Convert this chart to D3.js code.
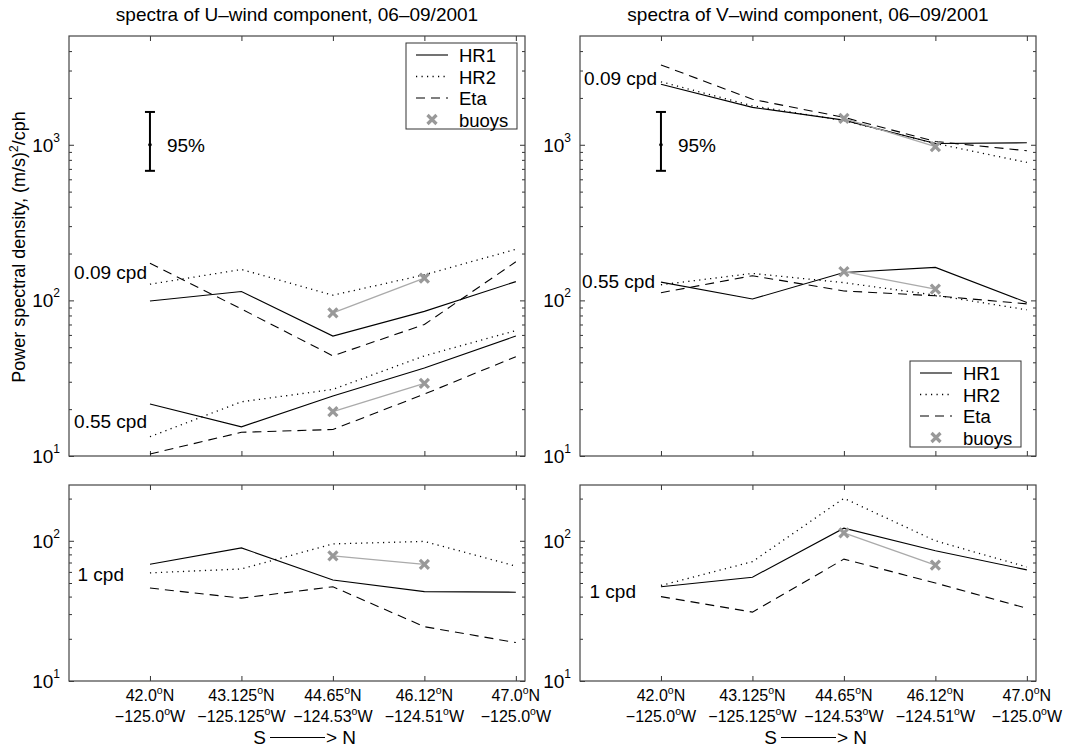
<!DOCTYPE html>
<html>
<head>
  <meta charset="utf-8">
  <style>
    body { margin: 0; background: #fff; }
    svg { font-family: "Liberation Sans", Arial, Helvetica, sans-serif; }
    .frame { fill: none; stroke: #444; stroke-width: 1.2; }
    .tick line { stroke: #333; }
    .domain { display: none; }
  </style>
</head>
<body>
  <script src="https://d3js.org/d3.v7.min.js"></script>
  <svg width="1067" height="749"></svg>
  <script>
    // station labels along the coast, S -> N
    var latLabels = ["42.0", "43.125", "44.65", "46.12", "47.0"];
    var lonLabels = ["\u2212125.0", "\u2212125.125", "\u2212124.53", "\u2212124.51", "\u2212125.0"];

    // U-wind, 0.09 cpd and 0.55 cpd
    var u009_HR1 = [99, 114, 59, 85, 132];
    var u009_HR2 = [127, 158, 108, 146, 213];
    var u009_Eta = [173, 88, 44, 70, 177];
    var u009_buoys = [null, null, 83, 139, null];
    var u055_HR1 = [21.6, 15.4, 24.3, 36.8, 59];
    var u055_HR2 = [13.3, 22.3, 26.8, 44, 64];
    var u055_Eta = [10.3, 14.2, 14.8, 25, 43.5];
    var u055_buoys = [null, null, 19.3, 29.3, null];

    // V-wind, 0.09 cpd and 0.55 cpd
    var v009_HR1 = [2450, 1740, 1440, 1020, 1030];
    var v009_HR2 = [2540, 1780, 1430, 1020, 770];
    var v009_Eta = [3260, 1960, 1500, 1050, 915];
    var v009_buoys = [null, null, 1480, 972, null];
    var v055_HR1 = [131, 102, 151, 163, 97];
    var v055_HR2 = [126, 149, 130, 108, 87];
    var v055_Eta = [112, 144, 115, 107, 95];
    var v055_buoys = [null, null, 153, 118, null];

    // 1 cpd
    var u1_HR1 = [68, 89, 52.5, 43.4, 43];
    var u1_HR2 = [59, 63, 95, 99, 66];
    var u1_Eta = [46, 39, 47, 24.4, 18.8];
    var u1_buoys = [null, null, 78, 68, null];
    var v1_HR1 = [47, 55, 123, 85, 62];
    var v1_HR2 = [48, 71, 201, 100, 65];
    var v1_Eta = [40, 31, 74, 50, 33];
    var v1_buoys = [null, null, 114, 67, null];

    // 95% confidence bar (low, centre, high)
    var ci95 = [680, 1000, 1625];

    var legendNames = ["HR1", "HR2", "Eta", "buoys"];

    var styles = {
      HR1: {dash: null, width: 1.1},
      HR2: {dash: "1.2,4.3", width: 1.3},
      Eta: {dash: "9,6", width: 1.1}
    };

    var svg = d3.select("svg");
    var W = 456;
    var FS = 19;

    var panels = [
      {left: 69, top: 36, h: 420, dom: [10, 5000], title: "spectra of U\u2013wind component, 06\u201309/2001",
       groups: [
         {label: "0.09 cpd", lx: 147, ly: 272, HR1: u009_HR1, HR2: u009_HR2, Eta: u009_Eta, buoys: u009_buoys},
         {label: "0.55 cpd", lx: 147, ly: 421, HR1: u055_HR1, HR2: u055_HR2, Eta: u055_Eta, buoys: u055_buoys}],
       ci: true, legend: {x: 406, y: 43}},
      {left: 580, top: 36, h: 420, dom: [10, 5000], title: "spectra of V\u2013wind component, 06\u201309/2001",
       groups: [
         {label: "0.09 cpd", lx: 657, ly: 78, HR1: v009_HR1, HR2: v009_HR2, Eta: v009_Eta, buoys: v009_buoys},
         {label: "0.55 cpd", lx: 655, ly: 281, HR1: v055_HR1, HR2: v055_HR2, Eta: v055_Eta, buoys: v055_buoys}],
       ci: true, legend: {x: 910, y: 361}},
      {left: 69, top: 485, h: 196, dom: [10, 250], bottom: true,
       groups: [{label: "1 cpd", lx: 124, ly: 574, HR1: u1_HR1, HR2: u1_HR2, Eta: u1_Eta, buoys: u1_buoys}]},
      {left: 580, top: 485, h: 196, dom: [10, 250], bottom: true,
       groups: [{label: "1 cpd", lx: 636, ly: 591, HR1: v1_HR1, HR2: v1_HR2, Eta: v1_Eta, buoys: v1_buoys}]}
    ];

    function xMark(sel, px, py, s) {
      sel.append("path")
        .attr("d", "M" + (px - s) + "," + (py - s) + "L" + (px + s) + "," + (py + s) +
                   "M" + (px - s) + "," + (py + s) + "L" + (px + s) + "," + (py - s))
        .attr("stroke", "#999").attr("stroke-width", 3.2).attr("fill", "none");
    }

    panels.forEach(function(p) {
      var x = d3.scaleLinear().domain([0.115, 5.1]).range([0, W]);
      var y = d3.scaleLog().domain(p.dom).range([p.h, 0]);
      var g = svg.append("g").attr("transform", "translate(" + p.left + "," + p.top + ")");

      // minor and major ticks on all four sides
      var majors = [10, 100, 1000].filter(function(v) { return v <= p.dom[1]; });
      var minors = [];
      [10, 100, 1000].forEach(function(d) {
        for (var k = 2; k <= 9; k++) if (d * k < p.dom[1] * 0.99) minors.push(d * k);
      });
      g.append("g").call(d3.axisLeft(y).tickValues(minors).tickSize(-3).tickFormat(""));
      g.append("g").call(d3.axisLeft(y).tickValues(majors).tickSize(-5).tickFormat(""));
      g.append("g").attr("transform", "translate(" + W + ",0)")
        .call(d3.axisRight(y).tickValues(minors).tickSize(-3).tickFormat(""));
      g.append("g").attr("transform", "translate(" + W + ",0)")
        .call(d3.axisRight(y).tickValues(majors).tickSize(-5).tickFormat(""));
      g.append("g").call(d3.axisTop(x).tickValues([1, 2, 3, 4, 5]).tickSize(-5).tickFormat(""));
      g.append("g").attr("transform", "translate(0," + p.h + ")")
        .call(d3.axisBottom(x).tickValues([1, 2, 3, 4, 5]).tickSize(-5).tickFormat(""));

      g.append("rect").attr("class", "frame").attr("width", W).attr("height", p.h);

      // y tick labels 10^n
      majors.forEach(function(v) {
        var t = g.append("text").attr("x", -9).attr("y", y(v) + 7)
          .attr("text-anchor", "end").attr("font-size", FS);
        t.append("tspan").text("10");
        t.append("tspan").attr("dy", -10).attr("font-size", 12).text(Math.round(Math.log10(v)));
      });

      // x tick labels on bottom panels
      if (p.bottom) {
        latLabels.forEach(function(lab, i) {
          var t1 = g.append("text").attr("x", x(i + 1)).attr("y", p.h + 20)
            .attr("text-anchor", "middle").attr("font-size", 16);
          t1.append("tspan").text(lab);
          t1.append("tspan").attr("dy", -7).attr("font-size", 10.5).text("o");
          t1.append("tspan").attr("dy", 7).text("N");
          var t2 = g.append("text").attr("x", x(i + 1)).attr("y", p.h + 41)
            .attr("text-anchor", "middle").attr("font-size", 16);
          t2.append("tspan").text(lonLabels[i]);
          t2.append("tspan").attr("dy", -7).attr("font-size", 10.5).text("o");
          t2.append("tspan").attr("dy", 7).text("W");
        });
        var cx = W / 2 + 3;
        g.append("text").attr("x", cx - 34).attr("y", p.h + 63).attr("text-anchor", "end")
          .attr("font-size", FS).text("S");
        g.append("line").attr("x1", cx - 30).attr("x2", cx + 25)
          .attr("y1", p.h + 56.5).attr("y2", p.h + 56.5).attr("stroke", "#000").attr("stroke-width", 1.2);
        g.append("text").attr("x", cx + 26).attr("y", p.h + 63).attr("font-size", FS).text("> N");
      }

      if (p.title) {
        svg.append("text").attr("x", p.left + W / 2).attr("y", 21)
          .attr("text-anchor", "middle").attr("font-size", FS).text(p.title);
      }

      var line = d3.line()
        .defined(function(d) { return d != null; })
        .x(function(d, i) { return x(i + 1); })
        .y(function(d) { return y(d); });

      p.groups.forEach(function(gr) {
        ["Eta", "HR2", "HR1"].forEach(function(k) {
          g.append("path").datum(gr[k]).attr("d", line)
            .attr("fill", "none").attr("stroke", "#000")
            .attr("stroke-width", styles[k].width)
            .attr("stroke-dasharray", styles[k].dash);
        });
        g.append("path").datum(gr.buoys).attr("d", line)
          .attr("fill", "none").attr("stroke", "#aaa").attr("stroke-width", 1.3);
        gr.buoys.forEach(function(v, i) {
          if (v != null) xMark(g, x(i + 1), y(v), 4.5);
        });
        svg.append("text").attr("x", gr.lx).attr("y", gr.ly + 7)
          .attr("text-anchor", "end").attr("font-size", FS).text(gr.label);
      });

      if (p.ci) {
        var cxp = x(1);
        g.append("line").attr("x1", cxp).attr("x2", cxp).attr("y1", y(ci95[0])).attr("y2", y(ci95[2]))
          .attr("stroke", "#000").attr("stroke-width", 2);
        [ci95[0], ci95[2]].forEach(function(v) {
          g.append("line").attr("x1", cxp - 5).attr("x2", cxp + 5).attr("y1", y(v)).attr("y2", y(v))
            .attr("stroke", "#000").attr("stroke-width", 2);
        });
        g.append("circle").attr("cx", cxp).attr("cy", y(ci95[1])).attr("r", 1.8).attr("fill", "#000");
        g.append("text").attr("x", cxp + 17).attr("y", y(ci95[1]) + 7).attr("font-size", FS).text("95%");
      }

      if (p.legend) {
        var lg = svg.append("g").attr("transform", "translate(" + p.legend.x + "," + p.legend.y + ")");
        lg.append("rect").attr("width", 111).attr("height", 86)
          .attr("fill", "#fff").attr("stroke", "#333").attr("stroke-width", 1);
        legendNames.forEach(function(n, i) {
          var ly = 12 + i * 21.5;
          if (n === "buoys") {
            xMark(lg, 26, ly, 4.5);
          } else {
            lg.append("line").attr("x1", 10).attr("x2", 42).attr("y1", ly).attr("y2", ly)
              .attr("stroke", "#000").attr("stroke-width", styles[n].width)
              .attr("stroke-dasharray", styles[n].dash);
          }
          lg.append("text").attr("x", 53).attr("y", ly + 7).attr("font-size", 18.5).text(n);
        });
      }
    });

    // shared y label
    svg.append("text")
      .attr("transform", "translate(25,247) rotate(-90)")
      .attr("text-anchor", "middle").attr("font-size", 18)
      .call(function(t) {
        t.append("tspan").text("Power spectral density, (m/s)");
        t.append("tspan").attr("dy", -7).attr("font-size", 12).text("2");
        t.append("tspan").attr("dy", 7).text("/cph");
      });
  </script>
</body>
</html>
